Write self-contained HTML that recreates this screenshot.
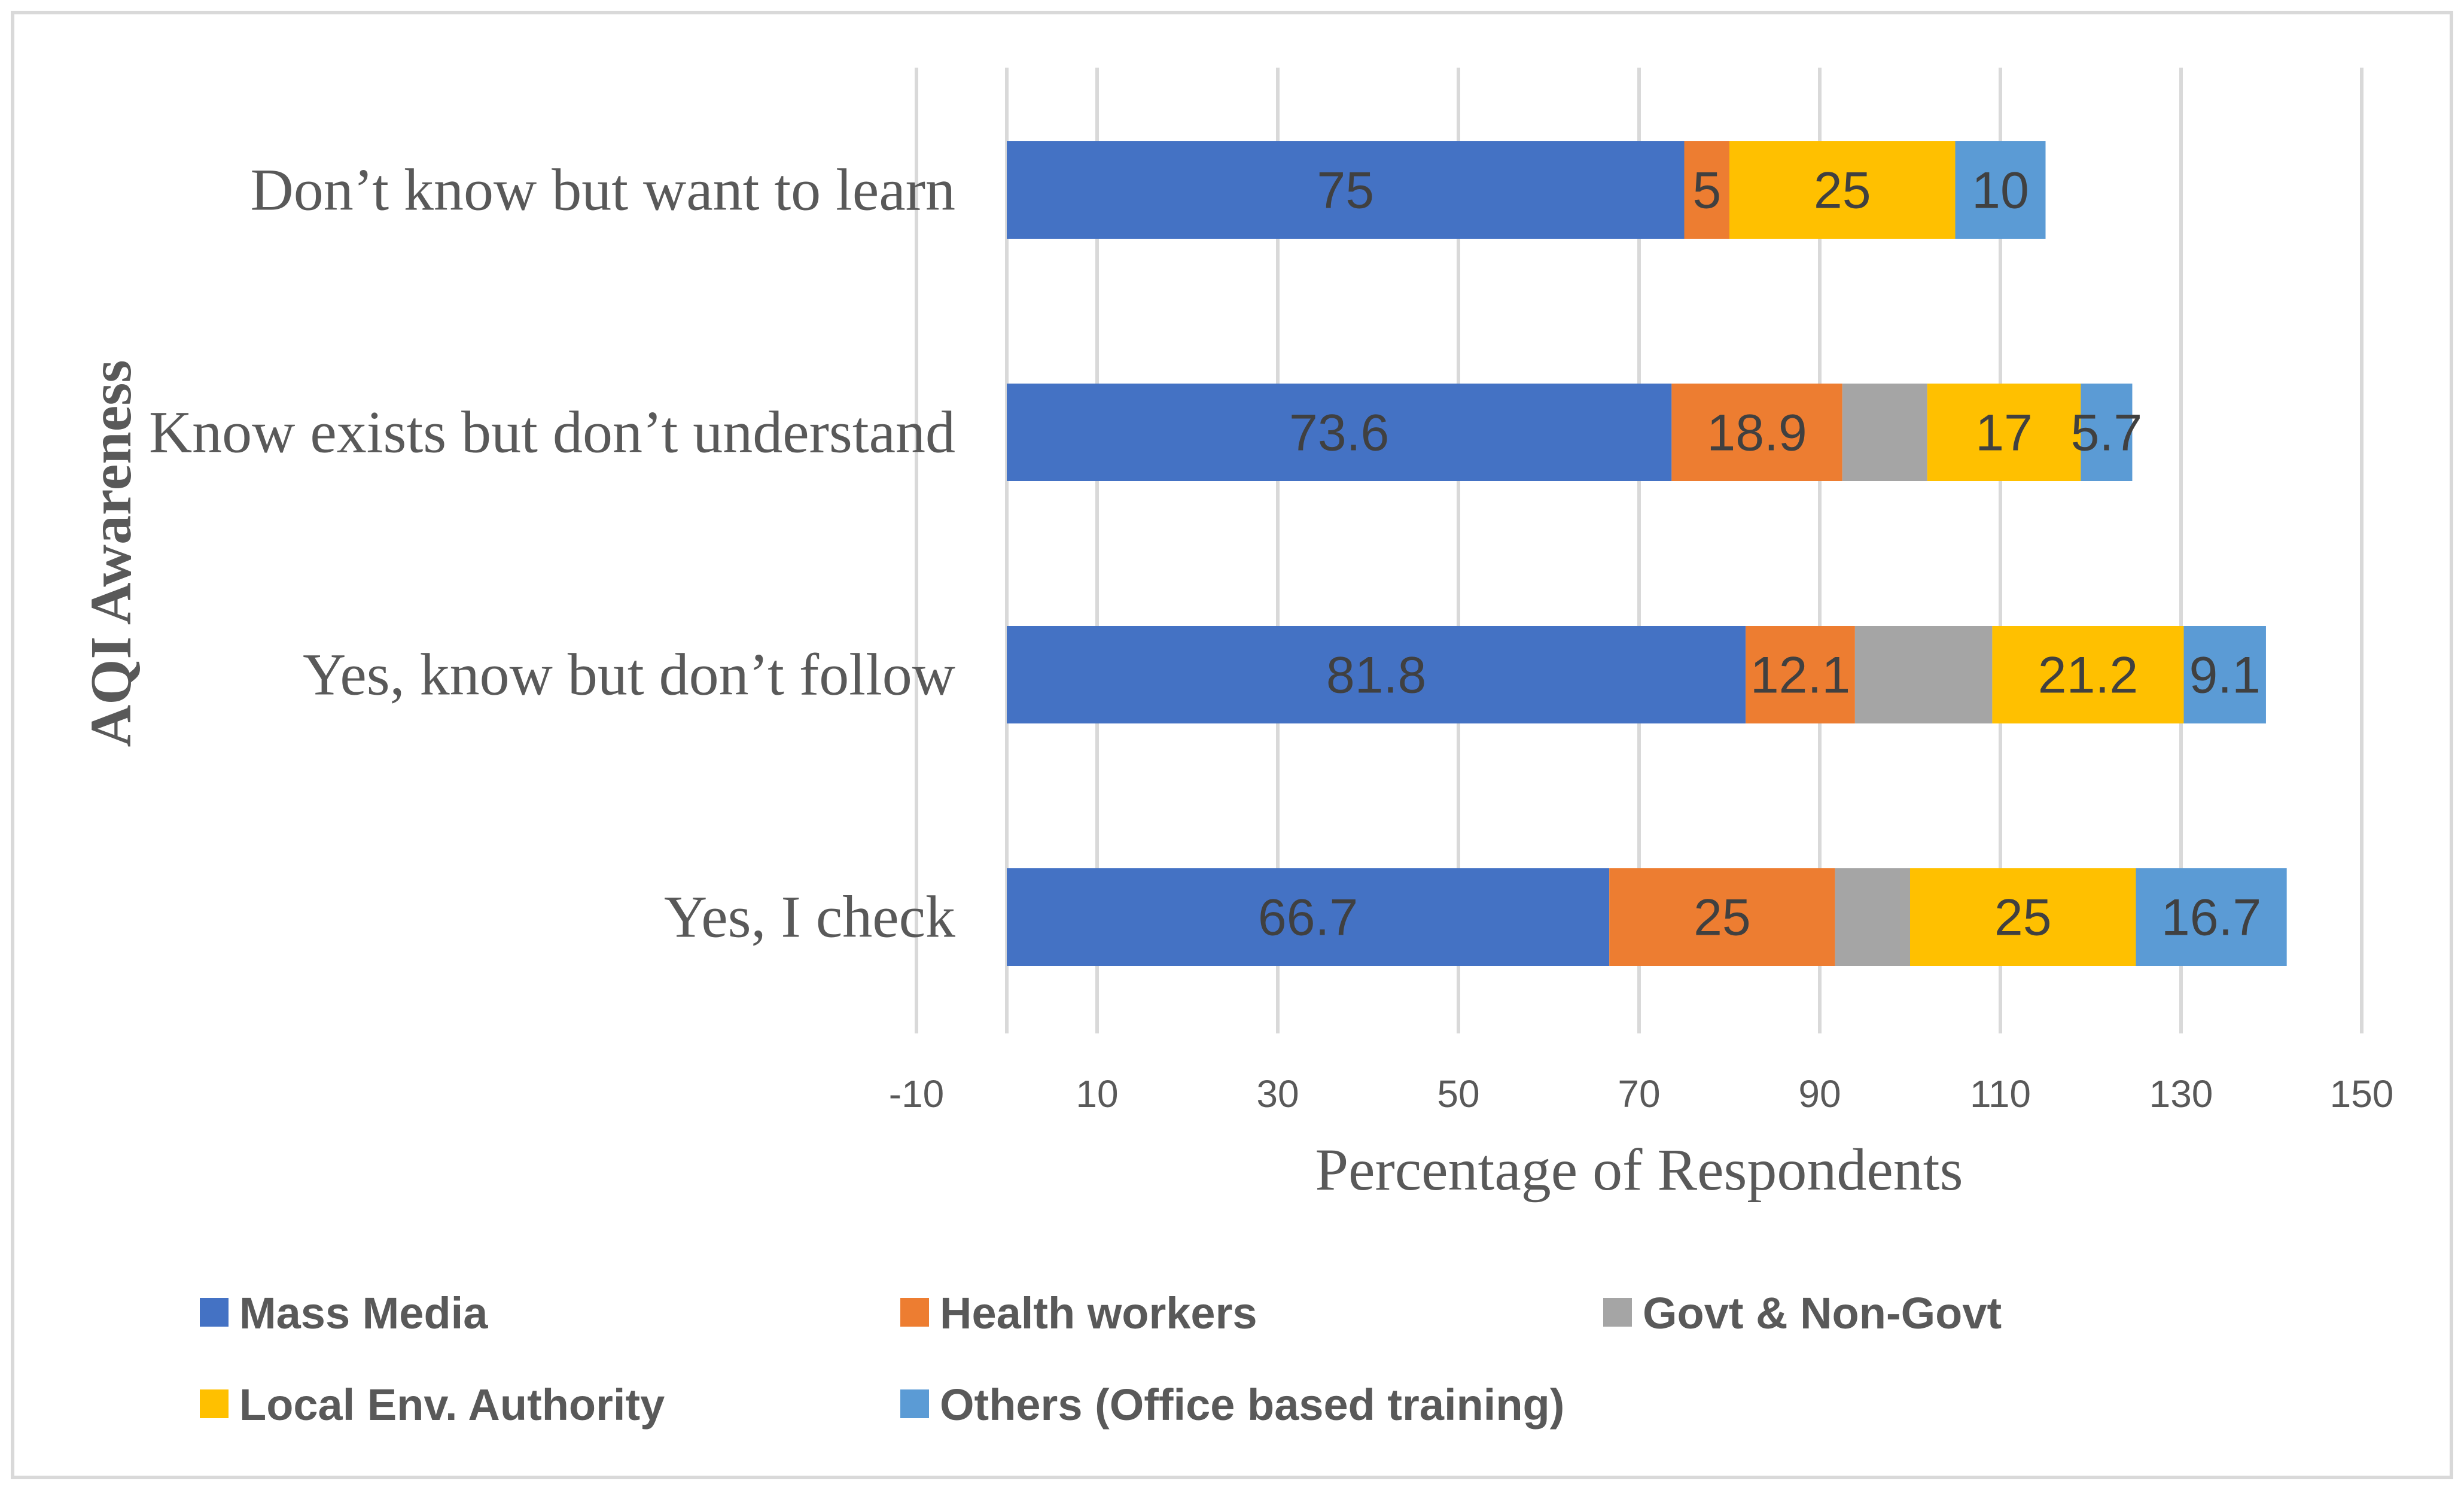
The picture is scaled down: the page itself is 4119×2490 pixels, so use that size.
<!DOCTYPE html>
<html><head><meta charset="utf-8">
<style>
html,body{margin:0;padding:0;background:#fff;}
svg{display:block;}
</style></head>
<body>
<svg id="chart" width="4119" height="2490" viewBox="0 0 4119 2490" xmlns="http://www.w3.org/2000/svg">
<rect x="21" y="21" width="4077" height="2448" fill="#fff" stroke="#d9d9d9" stroke-width="6"/>
<g id="grid"></g>
<g id="bars"></g>
<g id="labels"></g>
<text x="2740" y="1988" text-anchor="middle" font-family="Liberation Serif, serif" font-size="100" fill="#595959">Percentage of Respondents</text>
<text transform="translate(218,925) rotate(-90)" text-anchor="middle" font-family="Liberation Serif, serif" font-weight="bold" font-size="98" fill="#595959">AQI Awareness</text>
<g id="legend"></g>
</svg>
<script>
const categories = ["Don\u2019t know but want to learn","Know exists but don\u2019t understand","Yes, know but don\u2019t follow","Yes, I check"];
const seriesNames = ["Mass Media","Health workers","Govt & Non-Govt","Local Env. Authority","Others (Office based training)"];
const massMedia = [75, 73.6, 81.8, 66.7];
const healthWorkers = [5, 18.9, 12.1, 25];
const govtNonGovt = [0, 9.4, 15.2, 8.3];
const localEnv = [25, 17, 21.2, 25];
const others = [10, 5.7, 9.1, 16.7];
const showLabel = [true, true, false, true, true];
const xTicks = [-10, 10, 30, 50, 70, 90, 110, 130, 150];
const colors = ["#4472c4","#ed7d31","#a5a5a5","#ffc000","#5b9bd5"];

const NS = "http://www.w3.org/2000/svg";
const x0 = 1683, pxPerUnit = 15.1;
function xScale(v){ return x0 + v*pxPerUnit; }
const rowTop = 236, rowStep = 405, barH = 163;
function yScale(i){ return rowTop + i*rowStep; }
function mk(tag, attrs, parent){ const e=document.createElementNS(NS,tag); for(const k in attrs) e.setAttribute(k,attrs[k]); parent.appendChild(e); return e; }

const grid = document.getElementById('grid');
xTicks.forEach(t=>{
  const gl = mk('line',{x1:xScale(t),x2:xScale(t),y1:113,y2:1727,stroke:'#d9d9d9','stroke-width':6},grid);
  
  
  const tl = mk('text',{x:xScale(t),y:1850,'text-anchor':'middle','font-family':'Liberation Sans, sans-serif','font-size':64,fill:'#595959'},grid);
  tl.textContent = t;
  
  
});
const ax = mk('line',{x1:xScale(0),x2:xScale(0),y1:113,y2:1727,stroke:'#d9d9d9','stroke-width':6},grid);



const series = [massMedia, healthWorkers, govtNonGovt, localEnv, others];
const bars = document.getElementById('bars');
const labels = document.getElementById('labels');
categories.forEach((c,i)=>{
  let acc = 0;
  series.forEach((s,j)=>{
    const v = s[i];
    if(v>0){
      const r = mk('rect',{x:xScale(acc),y:yScale(i),width:v*pxPerUnit,height:barH,fill:colors[j]},bars);
      
      
      if(showLabel[j]){
        const t = mk('text',{x:xScale(acc+v/2),y:yScale(i)+barH/2+30,'text-anchor':'middle','font-family':'Liberation Sans, sans-serif','font-size':86,fill:'#404040'},labels);
        t.textContent = v;
        
        
      }
    }
    acc += v;
  });
  const cl = mk('text',{x:1597,y:yScale(i)+barH/2+33,'text-anchor':'end','font-family':'Liberation Serif, serif','font-size':100,fill:'#595959'},labels);
  cl.textContent = c;
  
  
});

const legend = document.getElementById('legend');
const legPos = [[334,2193],[1505,2193],[2680,2193],[334,2346],[1505,2346]];
seriesNames.forEach((n,j)=>{
  const g = mk('g',{},legend);
  
  
  mk('rect',{x:legPos[j][0],y:legPos[j][1]-24,width:48,height:48,fill:colors[j]},g);
  const t = mk('text',{x:legPos[j][0]+66,y:legPos[j][1]+27,'font-family':'Liberation Sans, sans-serif','font-weight':'bold','font-size':74,fill:'#595959'},g);
  t.textContent = n;
});
</script>
</body></html>
